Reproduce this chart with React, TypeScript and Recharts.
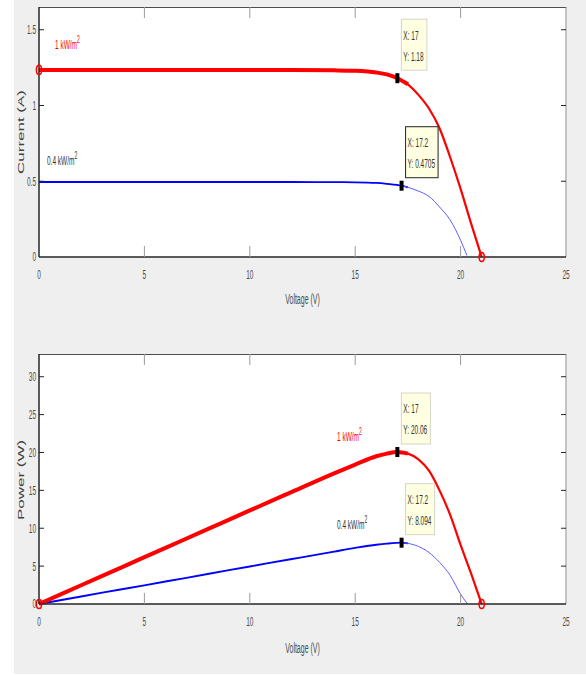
import React from 'react';
import { LineChart, Line, XAxis, YAxis, ReferenceDot } from 'recharts';

// ---------- data ----------
const VOLTAGE_TICKS = [0, 5, 10, 15, 20, 25];
const CURRENT_TICKS = [0, 0.5, 1, 1.5];
const POWER_TICKS = [0, 5, 10, 15, 20, 25, 30];

const V_1KW = [0, 2, 4, 6, 8, 10, 12, 14, 15, 16, 16.5, 17, 17.5, 18, 18.5, 19, 19.5, 20, 20.5, 21];
const I_1KW = [1.235, 1.235, 1.235, 1.235, 1.235, 1.235, 1.234, 1.232, 1.229, 1.218, 1.205, 1.18, 1.14, 1.07, 0.98, 0.85, 0.66, 0.45, 0.22, 0];
const P_1KW = [0, 2.47, 4.94, 7.41, 9.88, 12.35, 14.8, 17.25, 18.4, 19.5, 19.85, 20.06, 19.85, 19.1, 17.6, 15.0, 11.8, 7.8, 4.0, 0];

const V_04KW = [0, 2, 4, 6, 8, 10, 12, 14, 15, 16, 16.5, 17.2, 17.5, 18, 18.5, 19, 19.5, 20, 20.3];
const I_04KW = [0.495, 0.495, 0.495, 0.495, 0.495, 0.495, 0.495, 0.494, 0.493, 0.489, 0.483, 0.4705, 0.46, 0.435, 0.4, 0.33, 0.245, 0.11, 0.01];
const P_04KW = [0, 0.99, 1.98, 2.97, 3.96, 4.95, 5.94, 6.92, 7.4, 7.82, 7.97, 8.094, 8.0, 7.6, 6.8, 5.5, 3.8, 1.3, 0.1];

const TIPS_IV = [
  { x: 17, y: 1.18, selected: false },
  { x: 17.2, y: 0.4705, selected: true },
];
const TIPS_PV = [
  { x: 17, y: 20.06, selected: false },
  { x: 17.2, y: 8.094, selected: false },
];

// ---------- layout ----------
const W = 586;
const CH = 300;
const PL = 39;
const PR = 566;
const PT = 7;
const PB = 257;
const PANEL2_TOP = 347;
const FONT = 'Liberation Sans, Arial, sans-serif';
const SX = 0.5;

function NText({ x, y, anchor = 'start', size = 13, fill = '#4d4d4d', children }: any) {
  return (
    <text
      transform={`translate(${x},${y}) scale(${SX},1)`}
      textAnchor={anchor}
      dominantBaseline="central"
      fontSize={size}
      fontFamily={FONT}
      fill={fill}
    >
      {children}
    </text>
  );
}

function XTick(p: any) {
  const x = p.x;
  const v = p.payload.value;
  const edge = v === VOLTAGE_TICKS[0] || v === VOLTAGE_TICKS[VOLTAGE_TICKS.length - 1];
  return (
    <g>
      {!edge && <line x1={x} x2={x} y1={PB} y2={PB - 11} stroke="#9a9a9a" strokeWidth={1} />}
      {!edge && <line x1={x} x2={x} y1={PT} y2={PT + 11} stroke="#9a9a9a" strokeWidth={1} />}
      <NText x={x} y={PB + 18} anchor="middle">{String(v)}</NText>
    </g>
  );
}

function YTick(p: any) {
  const y = p.y;
  const v = p.payload.value;
  return (
    <g>
      {v !== 0 && <line x1={PL} x2={PL + 5} y1={y} y2={y} stroke="#262626" strokeWidth={1} />}
      {v !== 0 && <line x1={PR} x2={PR - 5} y1={y} y2={y} stroke="#262626" strokeWidth={1} />}
      <NText x={PL - 3} y={y} anchor="end">{String(v)}</NText>
    </g>
  );
}

function makeSeries(vs: number[], ys: number[]) {
  return vs.map((v, i) => ({ v, y: ys[i] }));
}

function TipShape(tip: any) {
  return (props: any) => {
    const { cx, cy } = props;
    const lines = [`X: ${tip.x}`, `Y: ${tip.y}`];
    const maxLen = Math.max(...lines.map((l) => l.length));
    const w = 3.5 * maxLen + 1;
    const h = 51;
    const bx = cx + 4;
    const by = cy - 8 - h;
    return (
      <g>
        <rect x={bx} y={by} width={w} height={h} fill="#ffffe1" stroke={tip.selected ? '#222' : '#d6d6c8'} strokeWidth={1} />
        <NText x={bx + 2} y={by + 16} fill="#333">{lines[0]}</NText>
        <NText x={bx + 2} y={by + 37} fill="#333">{lines[1]}</NText>
        <rect x={cx - 2} y={cy - 5} width={4} height={10} fill="#000" />
      </g>
    );
  };
}

const circleShape = (props: any) => (
  <ellipse cx={props.cx} cy={props.cy} rx={2.6} ry={4.6} fill="none" stroke="#ff0000" strokeWidth={1.5} />
);

function Panel({ top, yDomain, yTicks, red, blue, redSplit, blueSplit, tips, redEnds }: any) {
  const redThick = red.slice(0, redSplit + 2);
  const redThin = red.slice(redSplit);
  const blueThick = blue.slice(0, blueSplit + 2);
  const blueThin = blue.slice(blueSplit);
  return (
    <>
      <div
        style={{
          position: 'absolute',
          left: PL,
          top: top + PT,
          width: PR - PL + 1,
          height: PB - PT,
          background: '#ffffff',
          borderTop: '1px solid #4d4d4d',
          borderRight: '2px solid #c4c4c4',
          boxSizing: 'border-box',
        }}
      />
      <div style={{ position: 'absolute', left: 0, top, width: W, height: CH }}>
        <LineChart width={W} height={CH} margin={{ top: PT, right: W - PR, bottom: CH - PB - 20, left: 0 }}>
          <XAxis
            dataKey="v"
            type="number"
            domain={[0, 25]}
            ticks={VOLTAGE_TICKS}
            interval={0}
            height={20}
            tickLine={false}
            axisLine={{ stroke: '#262626', strokeWidth: 1.5 }}
            tick={(p: any) => <XTick {...p} />}
          />
          <YAxis
            type="number"
            domain={yDomain}
            ticks={yTicks}
            interval={0}
            width={PL}
            tickLine={false}
            axisLine={{ stroke: '#262626', strokeWidth: 1.5 }}
            tick={(p: any) => <YTick {...p} />}
          />
          <Line data={blueThick} dataKey="y" type="monotone" stroke="#0000ff" strokeWidth={1.8} dot={false} isAnimationActive={false} />
          <Line data={blueThin} dataKey="y" type="monotone" stroke="#5c5cff" strokeWidth={1} dot={false} isAnimationActive={false} />
          <Line data={redThick} dataKey="y" type="monotone" stroke="#ff0000" strokeWidth={4} dot={false} isAnimationActive={false} />
          <Line data={redThin} dataKey="y" type="monotone" stroke="#ff0000" strokeWidth={2.2} dot={false} isAnimationActive={false} />
          {redEnds.map((d: any, i: number) => (
            <ReferenceDot key={'c' + i} x={d.v} y={d.y} r={4} shape={circleShape} ifOverflow="visible" />
          ))}
          {tips.map((t: any, i: number) => (
            <ReferenceDot key={'t' + i} x={t.x} y={t.y} r={4} shape={TipShape(t)} ifOverflow="visible" />
          ))}
        </LineChart>
      </div>
    </>
  );
}

function CurveLabel({ x, y, text, fill }: any) {
  return (
    <text
      transform={`translate(${x},${y}) scale(${SX},1)`}
      dominantBaseline="central"
      fontSize={13}
      fontFamily={FONT}
      fill={fill}
    >
      {text}
      <tspan fontSize={10} dy={-6}>2</tspan>
    </text>
  );
}

function RotTitle({ x, y, text }: any) {
  return (
    <text
      transform={`translate(${x},${y}) scale(${SX},1) rotate(-90)`}
      textAnchor="middle"
      dominantBaseline="central"
      fontSize={17}
      fontFamily={FONT}
      fill="#404040"
    >
      {text}
    </text>
  );
}

export default function App() {
  const ivRed = makeSeries(V_1KW, I_1KW);
  const ivBlue = makeSeries(V_04KW, I_04KW);
  const pvRed = makeSeries(V_1KW, P_1KW);
  const pvBlue = makeSeries(V_04KW, P_04KW);
  const redSplit = V_1KW.indexOf(17);
  const blueSplit = V_04KW.indexOf(17.2);
  return (
    <div style={{ position: 'absolute', left: 0, top: 0, width: W, height: 675, background: '#ffffff', overflow: 'hidden' }}>
      <div style={{ position: 'absolute', left: 14, top: 0, width: W - 14, height: 674, background: '#efefef' }} />
      <Panel
        top={0}
        yDomain={[0, 1.65]}
        yTicks={CURRENT_TICKS}
        red={ivRed}
        blue={ivBlue}
        redSplit={redSplit}
        blueSplit={blueSplit}
        tips={TIPS_IV}
        redEnds={[ivRed[0], ivRed[ivRed.length - 1]]}
      />
      <Panel
        top={PANEL2_TOP}
        yDomain={[0, 33]}
        yTicks={POWER_TICKS}
        red={pvRed}
        blue={pvBlue}
        redSplit={redSplit}
        blueSplit={blueSplit}
        tips={TIPS_PV}
        redEnds={[pvRed[0], pvRed[pvRed.length - 1]]}
      />
      <svg width={W} height={675} style={{ position: 'absolute', left: 0, top: 0, pointerEvents: 'none' }}>
        <NText x={302.5} y={299} anchor="middle" size={14}>Voltage (V)</NText>
        <NText x={302.5} y={648} anchor="middle" size={14}>Voltage (V)</NText>
        <RotTitle x={21} y={132} text="Current (A)" />
        <RotTitle x={21.5} y={480} text="Power (W)" />
        <CurveLabel x={55} y={45} text="1 kW/m" fill="#ff0000" />
        <CurveLabel x={47} y={161} text="0.4 kW/m" fill="#333333" />
        <CurveLabel x={337} y={437} text="1 kW/m" fill="#ff0000" />
        <CurveLabel x={337} y={525} text="0.4 kW/m" fill="#333333" />
      </svg>
    </div>
  );
}
